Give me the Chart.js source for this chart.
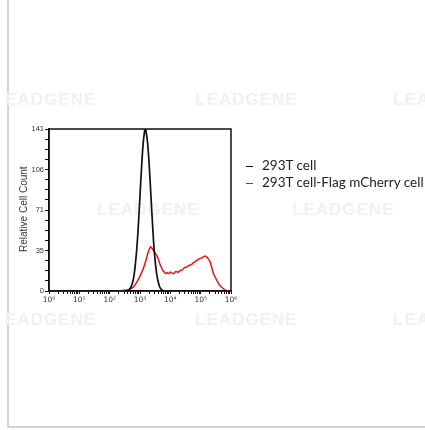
<!DOCTYPE html>
<html>
<head>
<meta charset="utf-8">
<script src="https://cdn.jsdelivr.net/npm/chart.js@4.4.1/dist/chart.umd.min.js"></script>
<style>
  html, body { margin: 0; padding: 0; background: #fff; }
  #wrap { position: relative; width: 425px; height: 430px; overflow: hidden; }
  #frame { position: absolute; left: 7px; top: 0; width: 430px; height: 426px;
           border-left: 2px solid #d4d4d4; border-bottom: 2px solid #d4d4d4; }
  .wm { position: absolute; font: bold 17px "Liberation Sans", sans-serif; color: #f1f1f1;
        letter-spacing: 1px; white-space: nowrap; }
  #chart_c { position: absolute; left: 0; top: 0; }
  #ytitle { position: absolute; left: 18px; top: 168px; height: 84px; writing-mode: vertical-rl;
            transform: rotate(180deg); text-align: center;
            font: 10px "Liberation Sans", sans-serif; color: #333; white-space: nowrap; }
  .leg { position: absolute; left: 246px; font: 13.5px Lato, sans-serif; color: #222;
         white-space: nowrap; }
  .leg span { display: inline-block; width: 7px; height: 1.5px; margin-right: 9px; vertical-align: middle; }
</style>
</head>
<body>
<div id="wrap">
  <div id="frame"></div>
  <div class="wm" style="left:5px;top:90px">EADGENE</div>
  <div class="wm" style="left:195px;top:90px">LEADGENE</div>
  <div class="wm" style="left:393px;top:90px">LEA</div>
  <div class="wm" style="left:97px;top:200px">LEADGENE</div>
  <div class="wm" style="left:292px;top:200px">LEADGENE</div>
  <div class="wm" style="left:5px;top:310px">EADGENE</div>
  <div class="wm" style="left:195px;top:310px">LEADGENE</div>
  <div class="wm" style="left:393px;top:310px">LEA</div>
  <canvas id="chart_c" width="425" height="430"></canvas>
  <div id="ytitle">Relative Cell Count</div>
  <div class="leg" style="top:157px"><span style="background:#111"></span>293T cell</div>
  <div class="leg" style="top:174px"><span style="background:#e8141b"></span>293T cell-Flag mCherry cell</div>
</div>
<script>
// log10 fluorescence vs relative cell count
const black_x = [2.5, 2.6, 2.65, 2.7, 2.75, 2.8, 2.85, 2.9, 2.95, 3.0, 3.05, 3.1, 3.15, 3.18, 3.2, 3.25, 3.3, 3.35, 3.4, 3.45, 3.5, 3.55, 3.6, 3.65, 3.7, 3.75, 3.8]
const black_y = [0, 0.6, 1.4, 3.3, 7, 13, 24, 39, 59, 83, 107, 127, 139, 141, 139, 129, 111, 88, 64, 42, 26, 15, 8, 3.5, 1.5, 0.5, 0]

const red_x = [2.3, 2.4, 2.5, 2.6, 2.7, 2.8, 2.9, 3.0, 3.1, 3.2, 3.25, 3.3, 3.35, 3.4, 3.45, 3.5, 3.55, 3.6, 3.65, 3.7, 3.75, 3.8, 3.85, 3.9, 3.95, 4.0, 4.05, 4.1, 4.15, 4.2, 4.25, 4.3, 4.35, 4.4, 4.45, 4.5, 4.55, 4.6, 4.65, 4.7, 4.75, 4.8, 4.85, 4.9, 4.95, 5.0, 5.05, 5.1, 5.15, 5.2, 5.25, 5.3, 5.35, 5.4, 5.45, 5.5, 5.55, 5.6, 5.65, 5.7, 5.75, 5.8, 5.85, 5.9]
const red_y = [0, 0.3, 0.6, 1, 2, 4, 8, 13, 19, 27, 32, 36, 38.5, 37, 35, 33, 31, 28, 24, 21, 18, 16.5, 15, 16, 15, 16.5, 15.5, 15, 16.5, 17, 16, 17.5, 18, 18.5, 20, 20.5, 21, 22, 22.5, 23, 24.5, 25, 26.5, 27, 28, 28.5, 29, 30, 30.5, 29.5, 28, 26, 22, 17, 13.5, 11, 8.5, 6, 4.5, 3, 2, 1, 0.5, 0]

const x_decades = [0, 1, 2, 3, 4, 5, 6]
const y_max = 141
const y_labels = [0, 35, 71, 106, 141]
const sup = ['\u2070', '\u00b9', '\u00b2', '\u00b3', '\u2074', '\u2075', '\u2076']

const toPoints = (xs, ys) => xs.map((x, i) => ({ x: x, y: ys[i] }))

const boxPlugin = {
  id: 'box',
  afterDatasetsDraw(chart) {
    const a = chart.chartArea
    const ctx = chart.ctx
    ctx.save()
    ctx.strokeStyle = '#111'
    ctx.lineWidth = 1.5
    ctx.strokeRect(a.left, a.top, a.right - a.left, a.bottom - a.top)
    ctx.restore()
  }
}

new Chart(document.getElementById('chart_c'), {
  type: 'line',
  data: {
    datasets: [
      {
        label: '293T cell',
        data: toPoints(black_x, black_y),
        borderColor: '#111',
        borderWidth: 1.7,
        pointRadius: 0,
        tension: 0.3
      },
      {
        label: '293T cell-Flag mCherry cell',
        data: toPoints(red_x, red_y),
        borderColor: '#e8141b',
        borderWidth: 1.5,
        pointRadius: 0,
        tension: 0.2
      }
    ]
  },
  options: {
    responsive: false,
    animation: false,
    layout: { padding: { left: 15, top: 129, right: 194, bottom: 114 } },
    plugins: { legend: { display: false }, tooltip: { enabled: false } },
    scales: {
      x: {
        type: 'linear',
        min: 0,
        max: 6,
        afterBuildTicks: (scale) => {
          const t = []
          x_decades.forEach(d => {
            t.push({ value: d })
            if (d < 6) for (let k = 2; k < 10; k++) t.push({ value: d + Math.log10(k) })
          })
          scale.ticks = t
        },
        afterFit: (scale) => { scale.height = 25 },
        ticks: {
          autoSkip: false,
          maxRotation: 0,
          padding: 2,
          color: '#333',
          font: { family: 'DejaVu Sans', size: 7.5 },
          callback: (v) => Number.isInteger(v) ? '10' + sup[v] : ''
        },
        grid: { drawOnChartArea: false, tickLength: 3, color: '#111', tickWidth: 1 },
        border: { color: '#111', width: 1.5 }
      },
      y: {
        min: 0,
        max: y_max,
        afterBuildTicks: (scale) => {
          const t = []
          for (let i = 0; i <= 16; i++) t.push({ value: y_max * i / 16 })
          scale.ticks = t
        },
        afterFit: (scale) => { scale.width = 34 },
        ticks: {
          autoSkip: false,
          padding: 1,
          color: '#333',
          font: { family: 'Liberation Sans', size: 7.5 },
          callback: (v, i) => i % 4 === 0 ? String(y_labels[i / 4]) : ''
        },
        grid: { drawOnChartArea: false, tickLength: 4, color: '#111' },
        border: { color: '#111', width: 1.5 }
      }
    }
  },
  plugins: [boxPlugin]
})
</script>
</body>
</html>
